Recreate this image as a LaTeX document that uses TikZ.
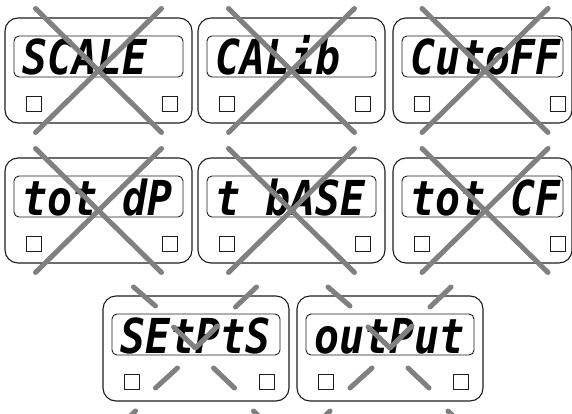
\documentclass[tikz,border=0pt]{standalone}
\usepackage{fontspec}
\usepackage{graphicx}
\newfontfamily\segfont{DejaVu Sans Mono}
\definecolor{crossgray}{RGB}{128,128,128}
\definecolor{lineblack}{RGB}{30,30,30}
\newcommand\lcdunit[6]{% #1 name, #2 left, #3 top, #4 width, #5 text, #6 right button offset
  \draw[frame] (#2,#3) rectangle ++(#4,105);
  \draw[screen] (#2+9,#3+18) rectangle ++(#4-18,41);
  \node[segtext, anchor=base west] (#1) at (#2+17,#3+57) {\scalebox{1}[1.16]{#5}};
  \draw[btn] (#2+21,#3+78) rectangle ++(15,15);
  \draw[btn] (#2+#4-#6,#3+78) rectangle ++(15,15);
}
\newcommand\bigcross[2]{% center
  \draw[cross] (#1-63,#2-62) -- (#1+63,#2+62);
  \draw[cross] (#1+63,#2-62) -- (#1-63,#2+62);
}
\newcommand\flashcheck[2]{% center
  \draw[cross] (#1-62,#2-62) -- (#1-40,#2-43);
  \draw[cross] (#1+40,#2-42) -- (#1+61,#2-62);
  \draw[cross] (#1-40,#2+39) -- (#1-18,#2+19);
  \draw[cross] (#1+18,#2+19) -- (#1+39,#2+39);
  \draw[cross] (#1-60,#2+62) -- (#1-75,#2+77);
  \draw[cross] (#1+58,#2+62) -- (#1+73,#2+77);
  \draw[cross] (#1-22,#2-22) -- (#1,#2-1) -- (#1+22,#2-23);
}
\begin{document}
\begin{tikzpicture}[x=1pt,y=-1pt]
\tikzset{
  frame/.style={draw=lineblack, line width=1.1pt, rounded corners=13pt},
  screen/.style={draw=lineblack, line width=0.9pt, rounded corners=5pt},
  btn/.style={draw=lineblack, line width=0.9pt},
  cross/.style={draw=crossgray, line width=5pt, line cap=round, line join=round},
  segtext/.style={inner sep=0pt, font=\segfont\bfseries\itshape\fontsize{41.5}{41.5}\selectfont}
}
\useasboundingbox (0,0) rectangle (572,414);
\clip (0,0) rectangle (572,414);
\fill[white] (0,0) rectangle (572,414);
% row 1
\lcdunit{scale}{5}{18}{187}{SCALE}{30}
\lcdunit{calib}{198}{18}{187}{CALib}{30}
\lcdunit{cutoff}{393}{18}{179}{CutoFF}{22}
% row 2
\lcdunit{totdp}{5}{158}{187}{tot dP}{30}
\lcdunit{tbase}{198}{158}{187}{t bASE}{30}
\lcdunit{totcf}{393}{158}{179}{tot CF}{22}
% row 3
\lcdunit{setpts}{103}{296}{186}{SEtPtS}{30}
\lcdunit{output}{297}{296}{186}{outPut}{30}
% crosses
\bigcross{98.5}{70.5}
\bigcross{291.5}{70.5}
\bigcross{485}{70.5}
\bigcross{98.5}{210.5}
\bigcross{291.5}{210.5}
\bigcross{485}{210.5}
% flashing check marks
\flashcheck{195.5}{349}
\flashcheck{390}{349}
\end{tikzpicture}
\end{document}
